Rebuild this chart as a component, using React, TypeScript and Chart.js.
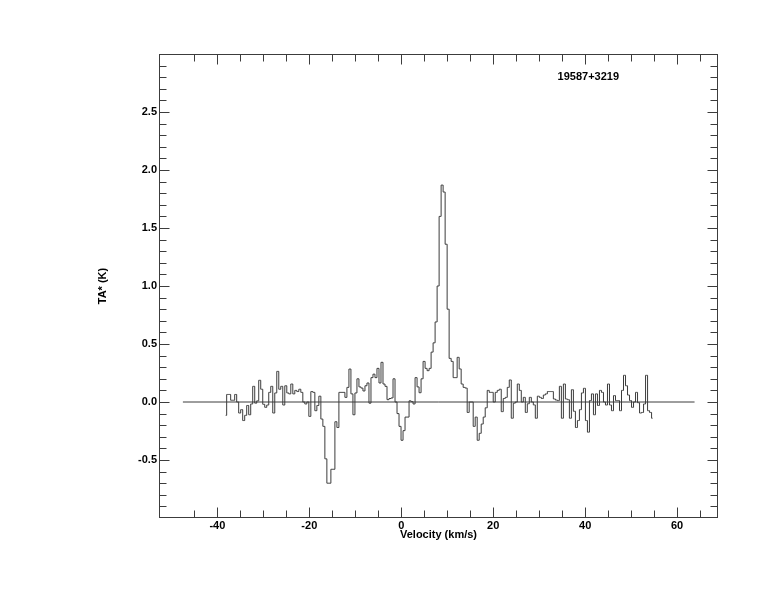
import React, { useEffect, useRef } from "react";
import { Chart, registerables } from "chart.js";

Chart.register(...registerables);

// ---- text ----
const SOURCE_NAME = "19587+3219";
const X_TITLE = "Velocity (km/s)";
const Y_TITLE = "TA* (K)";

// ---- spectrum: channel grid (km/s) and antenna temperature per channel (K) ----
const V_START = -38.2;
const V_STEP = 0.436;
const TA_K = [
  -0.115, 0.065, 0.065, 0.015, 0.015, 0.065, 0.0, -0.095, -0.066, -0.16,
  -0.115, -0.03, -0.11, -0.017, 0.135, -0.01, 0.01, 0.187, 0.11, -0.02,
  -0.046, -0.026, 0.083, 0.135, -0.095, 0.078, 0.264, 0.11, 0.135, -0.026,
  0.14, 0.078, 0.07, 0.155, 0.07, 0.1, 0.09, 0.11, 0.083, 0.0,
  -0.017, 0.0, -0.124, 0.09, 0.083, -0.075, -0.03, 0.05, -0.147, -0.21,
  -0.49, -0.7, -0.7, -0.58, -0.58, -0.17, -0.22, 0.083, 0.083, 0.083,
  0.04, 0.126, 0.284, 0.07, -0.11, 0.078, 0.2, 0.13, 0.12, 0.095,
  0.14, 0.164, -0.01, 0.21, 0.24, 0.21, 0.29, 0.164, 0.342, 0.155,
  0.135, 0.02, 0.03, 0.035, 0.2, 0.0, -0.1, -0.21, -0.33, -0.247,
  -0.13, -0.13, 0.01, 0.003, -0.017, 0.21, 0.13, 0.08, 0.2, 0.35,
  0.29, 0.27, 0.29, 0.43, 0.51, 0.69, 1.0, 1.6, 1.87, 1.81,
  1.36, 0.8, 0.376, 0.35, 0.21, 0.21, 0.385, 0.285, 0.155, 0.126,
  0.12, -0.09, 0.0, 0.0, -0.21, -0.13, -0.33, -0.27, -0.19, -0.13,
  -0.05, 0.1, 0.083, 0.083, 0.0, 0.083, 0.1, 0.11, -0.083, 0.03,
  0.04, 0.126, 0.19, -0.14, -0.01, 0.0, 0.155, 0.1, 0.0, 0.04,
  -0.09, -0.015, 0.04, 0.0, -0.025, -0.14, 0.05, 0.04, 0.03, 0.06,
  0.07, 0.09, 0.09, 0.09, 0.026, 0.017, 0.012, 0.135, -0.14, 0.155,
  0.026, 0.02, -0.14, 0.106, -0.08, -0.22, -0.16, -0.066, 0.078, 0.118,
  -0.16, -0.26, 0.012, 0.07, -0.11, 0.07, -0.03, 0.1, 0.083, 0.0,
  -0.026, 0.155, -0.026, -0.075, 0.055, 0.012, 0.012, -0.075, 0.1, 0.23,
  0.14, 0.06, 0.012, -0.046, 0.0, 0.083, -0.006, -0.095, -0.09, -0.017,
  0.23, -0.075, -0.09, -0.14,
];

// zero-level baseline
const BASELINE_V = [-47.5, 63.8];
const BASELINE_T = [0, 0];

// ---- axes ----
const X_MIN = -52.7;
const X_MAX = 68.9;
const Y_MIN = -1.0;
const Y_MAX = 3.0;
const X_TICKS = [-40, -20, 0, 20, 40, 60];
const Y_TICKS = [-0.5, 0.0, 0.5, 1.0, 1.5, 2.0, 2.5];
const X_MINOR_FIRST = -45;
const X_MINOR_LAST = 65;
const X_MINOR_STEP = 5;
const Y_MINOR_STEP = 0.1;

// label anchor in data coordinates
const LABEL_V = 34.0;
const LABEL_T = 2.78;

const INK = "#3c3c3c";
const FONT_FAMILY = "'Liberation Sans', Arial, Helvetica, sans-serif";

const framePlugin = {
  id: "frameTicks",
  afterDatasetsDraw(chart: any) {
    const { ctx, chartArea: a } = chart;
    const xs = chart.scales.x;
    const ys = chart.scales.y;
    const L = Math.round(a.left) + 0.5;
    const R = Math.round(a.right) - 0.5;
    const T = Math.round(a.top) + 0.5;
    const B = Math.round(a.bottom) - 0.5;
    ctx.save();
    ctx.strokeStyle = INK;
    ctx.lineWidth = 1;
    ctx.strokeRect(L, T, R - L, B - T);
    ctx.beginPath();
    const xn0 = Math.round(X_MINOR_FIRST / X_MINOR_STEP);
    const xn1 = Math.round(X_MINOR_LAST / X_MINOR_STEP);
    for (let n = xn0; n <= xn1; n++) {
      const v = n * X_MINOR_STEP;
      const major = X_TICKS.some((t) => Math.abs(t - v) < 1e-6);
      const len = major ? 10 : 7;
      const px = Math.round(xs.getPixelForValue(v)) + 0.5;
      ctx.moveTo(px, B);
      ctx.lineTo(px, B - len);
      ctx.moveTo(px, T);
      ctx.lineTo(px, T + len);
    }
    const yn0 = Math.ceil(Y_MIN / Y_MINOR_STEP - 1e-6) + 1;
    const yn1 = Math.floor(Y_MAX / Y_MINOR_STEP + 1e-6) - 1;
    for (let n = yn0; n <= yn1; n++) {
      const v = n * Y_MINOR_STEP;
      const major = Y_TICKS.some((t) => Math.abs(t - v) < 1e-6);
      const len = major ? 10 : 7;
      const py = Math.round(ys.getPixelForValue(v)) + 0.5;
      ctx.moveTo(L, py);
      ctx.lineTo(L + len, py);
      ctx.moveTo(R, py);
      ctx.lineTo(R - len, py);
    }
    ctx.stroke();

    ctx.fillStyle = "#000";
    ctx.font = `bold 11px ${FONT_FAMILY}`;
    ctx.textAlign = "left";
    ctx.textBaseline = "alphabetic";
    ctx.fillText(SOURCE_NAME, xs.getPixelForValue(LABEL_V), ys.getPixelForValue(LABEL_T));
    ctx.restore();
  },
};

export default function App() {
  const canvasRef = useRef<HTMLCanvasElement | null>(null);

  useEffect(() => {
    const canvas = canvasRef.current;
    if (!canvas) return;
    const spectrum = TA_K.map((t, i) => ({ x: V_START + i * V_STEP, y: t }));
    const baseline = BASELINE_V.map((v, i) => ({ x: v, y: BASELINE_T[i] }));
    const tickFont = { family: FONT_FAMILY, size: 11, weight: "bold" as const };

    const chart = new Chart(canvas, {
      type: "line",
      data: {
        datasets: [
          {
            data: baseline,
            borderColor: INK,
            borderWidth: 1,
            pointRadius: 0,
            tension: 0,
          },
          {
            data: spectrum,
            borderColor: INK,
            borderWidth: 1,
            pointRadius: 0,
            stepped: "middle",
          },
        ],
      },
      options: {
        animation: false,
        responsive: false,
        devicePixelRatio: 1,
        events: [],
        layout: { padding: { left: 0, top: 54, right: 56, bottom: 0 } },
        plugins: {
          legend: { display: false },
          tooltip: { enabled: false },
        },
        scales: {
          x: {
            type: "linear",
            min: X_MIN,
            max: X_MAX,
            grid: { display: false, drawTicks: false },
            border: { display: false },
            afterBuildTicks: (s: any) => {
              s.ticks = X_TICKS.map((v) => ({ value: v }));
            },
            afterFit: (s: any) => {
              s.height = 94;
            },
            ticks: {
              font: tickFont,
              color: "#000",
              padding: 1,
              maxRotation: 0,
              autoSkip: false,
              callback: (v: any) => String(v),
            },
            title: {
              display: true,
              text: X_TITLE,
              font: tickFont,
              color: "#000",
              padding: { top: 0, bottom: 70.4 },
            },
          },
          y: {
            type: "linear",
            min: Y_MIN,
            max: Y_MAX,
            grid: { display: false, drawTicks: false },
            border: { display: false },
            afterBuildTicks: (s: any) => {
              s.ticks = Y_TICKS.map((v) => ({ value: v }));
            },
            afterFit: (s: any) => {
              s.width = 159;
            },
            ticks: {
              font: tickFont,
              color: "#000",
              padding: 2,
              autoSkip: false,
              callback: (v: any) => Number(v).toFixed(1),
            },
            title: {
              display: true,
              text: Y_TITLE,
              font: tickFont,
              color: "#000",
              padding: { top: 96.4, bottom: 0 },
            },
          },
        },
      },
      plugins: [framePlugin],
    });
    return () => chart.destroy();
  }, []);

  return (
    <div style={{ position: "absolute", left: 0, top: 0, width: 774, height: 612 }}>
      <canvas ref={canvasRef} width={774} height={612} style={{ width: 774, height: 612 }} />
    </div>
  );
}
